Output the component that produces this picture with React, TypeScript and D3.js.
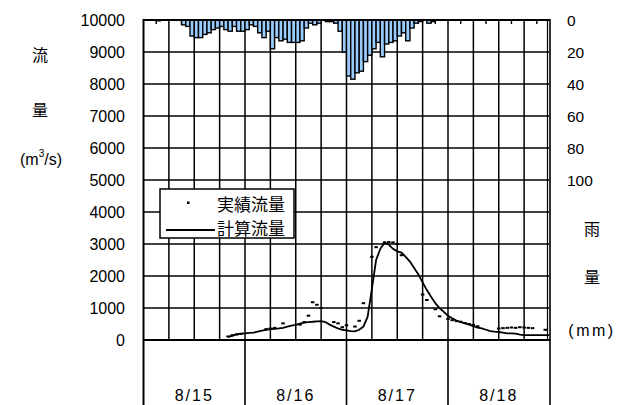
import React from 'react';
import * as d3 from 'd3';

const days = ['8/15', '8/16', '8/17', '8/18'];
const flowTicks = [0, 1000, 2000, 3000, 4000, 5000, 6000, 7000, 8000, 9000, 10000];
const rainTicks = [0, 20, 40, 60, 80, 100];

// hourly rainfall (mm) starting 8/15 00:00
const rainHourly = [
  0, 0, 0, 0.5, 0, 0, 0, 0, 0,
  3, 4, 10, 11, 11, 9, 8, 6, 5, 4, 6, 7, 4, 7, 7,
  6, 3, 4, 8, 11, 7, 18, 11, 13, 12, 14, 14, 14, 13, 5, 2, 3, 2, 0, 1, 1, 2, 7, 20,
  35, 37, 33, 32, 26, 22, 18, 14, 23, 15, 14, 13, 10, 8, 13, 5, 2, 1, 0, 2, 1,
];

// calculated discharge, hourly from hour 20 (8/15 20:00)
const calcStartHour = 20;
const calcFlow = [
  100, 130, 180, 200, 210, 220, 230, 260, 290, 320, 340, 350, 360, 380, 420, 450, 470, 510, 540, 560,
  570, 585, 590, 560, 480, 420, 360, 320, 300, 280, 270, 320, 420, 730, 1600, 2500, 2850, 3040, 2980, 2850,
  2770, 2730, 2600, 2450, 2250, 2050, 1800, 1560, 1350, 1150, 1000, 880, 760, 680, 610, 560, 520, 480, 430, 390,
  360, 320, 280, 260, 250, 230, 210, 210, 200, 170, 155, 155, 155, 155, 155, 155, 155,
];

// observed discharge
const obsHours = [
  20, 21, 22, 23, 29, 30, 31, 33, 37, 38, 39, 40, 41, 42, 45, 46, 47, 48, 50, 51, 52, 54, 55,
  57, 58, 59, 60, 61, 66, 67, 69, 70, 72, 73, 74, 75, 76, 77, 78, 79, 84, 85, 86, 87, 88, 89, 90, 91, 92, 95,
];
const obsFlow = [
  110, 150, 170, 190, 340, 360, 380, 520, 480, 560, 760, 1180, 1100, 1000, 560, 520, 400, 460, 420, 600, 1150, 2600, 2900,
  3050, 3060, 3050, 3000, 2650, 1420, 1250, 960, 740, 660, 620, 590, 570, 530, 500, 470, 430, 360, 370, 380, 390, 380, 400, 390, 380, 370, 320,
];

const SANS = '"Liberation Sans", Arial, sans-serif';
const CJK = '"Noto Sans CJK JP", "Noto Sans CJK SC", sans-serif';

export default function App() {
  const x = d3.scaleLinear().domain([0, 96]).range([143.5, 549.5]);
  const yF = d3.scaleLinear().domain([0, 10000]).range([340, 20]);
  const yR = d3.scaleLinear().domain([0, 100]).range([20, 180]);

  const gridHours = d3.range(6, 96, 6);
  const minorHours = d3.range(3, 96, 6);
  const dayHours = [0, 24, 48, 72, 96];

  const calcPts: [number, number][] = calcFlow.map((v, i) => [calcStartHour + i, v]);
  const line = d3
    .line<[number, number]>()
    .x((d) => x(d[0]))
    .y((d) => yF(d[1]));

  return (
    <svg width={619} height={405} style={{ position: 'absolute', left: 0, top: 0, background: '#fff' }}>
      <rect x={0} y={0} width={619} height={405} fill="#fff" />
      {/* horizontal grid */}
      {flowTicks.map((t) => (
        <line key={'h' + t} x1={x(0)} x2={x(96)} y1={yF(t)} y2={yF(t)} stroke="#000" strokeWidth={1.5} />
      ))}
      {/* vertical grid */}
      {gridHours.map((h) => (
        <line key={'v' + h} x1={x(h)} x2={x(h)} y1={yF(10000)} y2={yF(0)} stroke="#000" strokeWidth={1.5} />
      ))}
      {/* minor ticks at top */}
      {minorHours.map((h) => (
        <line key={'m' + h} x1={x(h)} x2={x(h)} y1={yF(10000)} y2={yF(10000) + 4} stroke="#000" strokeWidth={1.4} />
      ))}
      {/* rain bars */}
      {rainHourly.map((v, i) =>
        v > 0 ? (
          <rect
            key={'r' + i}
            x={x(i)}
            y={yR(0)}
            width={x(i + 1) - x(i)}
            height={yR(v) - yR(0)}
            fill="#99ccff"
            stroke="#000"
            strokeWidth={1.4}
          />
        ) : null
      )}
      {/* calculated line */}
      <path d={line(calcPts) || ''} fill="none" stroke="#000" strokeWidth={1.8} />
      {/* observed points */}
      {obsHours.map((h, i) => (
        <rect key={'o' + i} x={x(h) - 1.75} y={yF(obsFlow[i]) - 1} width={3.5} height={2} fill="#000" />
      ))}
      {/* frame */}
      <line x1={x(0)} x2={x(0)} y1={yF(10000) - 1} y2={405} stroke="#000" strokeWidth={2} />
      <line x1={x(0)} x2={x(96)} y1={yF(10000)} y2={yF(10000)} stroke="#000" strokeWidth={2} />
      <line x1={x(0)} x2={x(96) + 1} y1={yF(0)} y2={yF(0)} stroke="#000" strokeWidth={2} />
      <line x1={x(96) - 2} x2={x(96) - 2} y1={yF(10000)} y2={yF(0)} stroke="#000" strokeWidth={1.2} />
      <line x1={x(96) + 0.5} x2={x(96) + 0.5} y1={yF(10000) - 1} y2={405} stroke="#000" strokeWidth={1.6} />
      {/* day separators below */}
      {dayHours.slice(1, 4).map((h) => (
        <line key={'d' + h} x1={x(h)} x2={x(h)} y1={yF(0)} y2={405} stroke="#000" strokeWidth={1.6} />
      ))}
      {days.map((d, i) => (
        <text
          key={d}
          x={x(i * 24 + 12)}
          y={401}
          textAnchor="middle"
          fontFamily={SANS}
          fontSize={16}
          letterSpacing={2}
        >
          {d}
        </text>
      ))}
      {/* left axis labels */}
      {flowTicks.map((t) => (
        <text key={'lt' + t} x={125} y={yF(t) + 5.5} textAnchor="end" fontFamily={SANS} fontSize={16}>
          {t}
        </text>
      ))}
      {/* right axis labels */}
      {rainTicks.map((t) => (
        <text key={'rt' + t} x={567} y={yR(t) + 5.5} textAnchor="start" fontFamily={SANS} fontSize={15.5}>
          {t}
        </text>
      ))}
      {/* axis titles */}
      <text x={40} y={61} textAnchor="middle" fontFamily={CJK} fontSize={16}>流</text>
      <text x={40} y={116} textAnchor="middle" fontFamily={CJK} fontSize={16}>量</text>
      <text x={41} y={165} textAnchor="middle" fontFamily={SANS} fontSize={16}>
        (m<tspan dy={-8} fontSize={10}>3</tspan>
        <tspan dy={8}>/s)</tspan>
      </text>
      <text x={592} y={235} textAnchor="middle" fontFamily={CJK} fontSize={16}>雨</text>
      <text x={592} y={283} textAnchor="middle" fontFamily={CJK} fontSize={16}>量</text>
      <text x={592} y={336} textAnchor="middle" fontFamily={SANS} fontSize={16} letterSpacing={2.5}>(mm)</text>
      {/* legend */}
      <rect x={160} y={189} width={134} height={49} fill="#fff" stroke="#000" strokeWidth={1.5} />
      <rect x={187} y={201.5} width={2.5} height={2.5} fill="#000" />
      <text x={217} y={211} fontFamily={CJK} fontSize={17}>実績流量</text>
      <line x1={166} x2={215} y1={230} y2={230} stroke="#000" strokeWidth={1.8} />
      <text x={217} y={235} fontFamily={CJK} fontSize={17}>計算流量</text>
    </svg>
  );
}
